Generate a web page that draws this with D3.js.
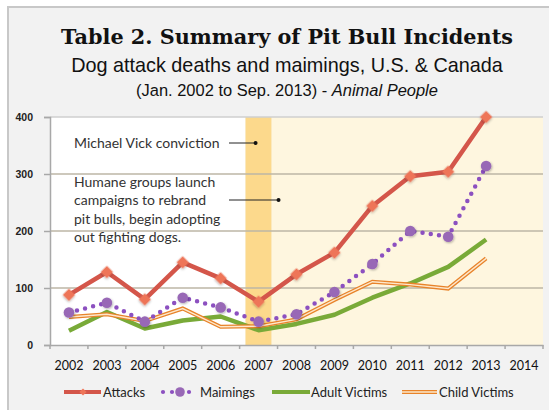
<!DOCTYPE html>
<html>
<head>
<meta charset="utf-8">
<script src="https://cdn.jsdelivr.net/npm/d3@7"></script>
<style>
  body { margin: 0; background: #fff; }
  text { font-family: Lato, "Open Sans", sans-serif; }
</style>
</head>
<body>
<div class="wrapper"></div>
<script>
const years = ['2002', '2003', '2004', '2005', '2006', '2007', '2008', '2009', '2010', '2011', '2012', '2013', '2014']
const dataYears = years.slice(0, 12)
const attacks = [88, 128, 80, 145, 117, 76, 124, 162, 244, 296, 304, 400]
const maimings = [57, 74, 41, 83, 66, 41, 54, 93, 142, 200, 190, 314]
const adultVictims = [25, 58, 29, 43, 50, 26, 37, 53, 83, 108, 137, 185]
const childVictims = [49, 54, 42, 64, 32, 33, 45, 79, 111, 106, 99, 152]
const yTicks = [0, 100, 200, 300, 400]
const notes = [
  ['Michael Vick conviction'],
  ['Humane groups launch', 'campaigns to rebrand', 'pit bulls, begin adopting', 'out fighting dogs.'],
]

const width = 549, height = 410
const plot = { left: 50, right: 543, top: 117, bottom: 345 }

const svg = d3.select('.wrapper')
  .append('svg')
  .attr('width', width)
  .attr('height', height)

const defs = svg.append('defs')
defs.append('filter').attr('id', 'shadow')
  .attr('x', '-50%').attr('y', '-50%').attr('width', '200%').attr('height', '200%')
  .append('feDropShadow')
  .attr('dx', 0.8).attr('dy', 1).attr('stdDeviation', 0.8)
  .attr('flood-color', '#000').attr('flood-opacity', 0.3)

// panel
svg.append('rect')
  .attr('x', 8).attr('y', 7)
  .attr('width', 560).attr('height', 420)
  .attr('fill', '#f2f2f2')
  .attr('stroke', '#c8c8c8')
  .attr('stroke-width', 2)

// titles, sized to the widths
function fit(sel, w) {
  const size = parseFloat(sel.attr('font-size'))
  const len = sel.node().getComputedTextLength()
  sel.attr('font-size', size * w / len)
}

const title = svg.append('text')
  .attr('x', 287).attr('y', 44)
  .attr('text-anchor', 'middle')
  .attr('font-size', 23)
  .attr('font-weight', 'bold')
  .style('font-family', '"DejaVu Serif", "Liberation Serif", serif')
  .attr('fill', '#111')
  .text('Table 2. Summary of Pit Bull Incidents')
fit(title, 452)

const sub = svg.append('text')
  .attr('x', 287).attr('y', 72)
  .attr('text-anchor', 'middle')
  .attr('font-size', 18.5)
  .style('font-family', '"Liberation Sans", Arial, sans-serif')
  .attr('fill', '#111')
  .text('Dog attack deaths and maimings, U.S. & Canada')
fit(sub, 432)

const sub2 = svg.append('text')
  .attr('x', 287).attr('y', 96)
  .attr('text-anchor', 'middle')
  .attr('font-size', 14)
  .style('font-family', '"Liberation Sans", Arial, sans-serif')
  .attr('fill', '#111')
sub2.append('tspan').text('(Jan. 2002 to Sep. 2013) - ')
sub2.append('tspan').attr('font-style', 'italic').text('Animal People')
fit(sub2, 302)

// scales
const x = d3.scaleBand().domain(years).range([plot.left, plot.right])
const y = d3.scaleLinear().domain([0, 400]).range([plot.bottom, plot.top])
const cx = d => x(d) + x.bandwidth() / 2

// backgrounds: white before the Vick year, gold band on 2007, cream after
const bw = x.bandwidth()
const goldL = x('2007') + bw * 0.155, goldR = x('2007') + bw * 0.845
svg.append('rect')
  .attr('x', plot.left).attr('y', plot.top)
  .attr('width', goldL - plot.left).attr('height', plot.bottom - plot.top)
  .attr('fill', '#fff')
svg.append('rect')
  .attr('x', goldL).attr('y', plot.top)
  .attr('width', goldR - goldL).attr('height', plot.bottom - plot.top)
  .attr('fill', '#fcd98c')
svg.append('rect')
  .attr('x', goldR).attr('y', plot.top)
  .attr('width', plot.right - goldR).attr('height', plot.bottom - plot.top)
  .attr('fill', '#fef6df')

// grid
svg.append('g')
  .selectAll('line')
  .data(yTicks.slice(1))
  .join('line')
  .attr('x1', plot.left).attr('x2', plot.right)
  .attr('y1', d => y(d)).attr('y2', d => y(d))
  .attr('stroke', d => d === 400 ? '#cfcfcf' : '#bdb6a6')
  .attr('stroke-width', 1.5)

// y axis
const yAxis = svg.append('g')
  .attr('transform', `translate(${plot.left},0)`)
  .call(d3.axisLeft(y).tickValues(yTicks).tickSize(6).tickPadding(11))
yAxis.select('.domain').attr('stroke', '#a8a8a8').attr('stroke-width', 1.5)
yAxis.selectAll('.tick line').attr('stroke', '#a8a8a8').attr('stroke-width', 1.5)
yAxis.selectAll('.tick text')
  .attr('fill', '#222')
  .attr('font-size', 10.5)
  .attr('font-weight', 'bold')
  .style('font-family', '"Liberation Sans", Arial, sans-serif')

// x axis
const xAxis = svg.append('g')
  .attr('transform', `translate(0,${plot.bottom})`)
  .call(d3.axisBottom(x).tickSize(0).tickPadding(16))
xAxis.select('.domain').attr('stroke', '#a8a8a8').attr('stroke-width', 1.5)
xAxis.selectAll('.tick text').attr('fill', '#111').attr('font-size', 12.5)
xAxis.selectAll('.edge')
  .data(years.map(d => x(d)).concat([plot.right]))
  .join('line')
  .attr('x1', d => d).attr('x2', d => d)
  .attr('y1', 0).attr('y2', 4)
  .attr('stroke', '#a8a8a8').attr('stroke-width', 1.5)

// annotations, leaders end around the 2007 band
const noteLeader = [
  { tx: 74, ty: 148, lx1: 229, lx2: cx('2007') - 3, ly: 143 },
  { tx: 74, ty: 187, lx1: 229, lx2: x('2008') + 1, ly: 200 },
]
notes.forEach((lines, i) => {
  const p = noteLeader[i]
  const t = svg.append('text')
    .attr('x', p.tx).attr('y', p.ty)
    .attr('font-size', 14)
    .attr('fill', '#333')
  lines.forEach((l, j) => t.append('tspan').attr('x', p.tx).attr('dy', j ? 18.3 : 0).text(l))
  svg.append('line')
    .attr('x1', p.lx1).attr('x2', p.lx2)
    .attr('y1', p.ly).attr('y2', p.ly)
    .attr('stroke', '#222').attr('stroke-width', 1)
  svg.append('circle')
    .attr('cx', p.lx2).attr('cy', p.ly).attr('r', 2)
    .attr('fill', '#111')
})

// series
const line = d3.line().x((d, i) => cx(dataYears[i])).y(d => y(d))

function childPath(g, values) {
  g.append('path').attr('d', line(values))
    .attr('fill', 'none').attr('stroke', '#e8832a').attr('stroke-width', 4)
    .attr('stroke-linejoin', 'miter')
  g.append('path').attr('d', line(values))
    .attr('fill', 'none').attr('stroke', '#fde8cc').attr('stroke-width', 1.4)
    .attr('stroke-linejoin', 'miter')
}

const series = svg.append('g')

series.append('path')
  .attr('d', line(adultVictims))
  .attr('fill', 'none')
  .attr('stroke', '#79aa38')
  .attr('stroke-width', 4.5)
  .attr('stroke-linejoin', 'round')

childPath(series, childVictims)

series.append('path')
  .attr('d', line(maimings))
  .attr('fill', 'none')
  .attr('stroke', '#8c50c0')
  .attr('stroke-width', 4.5)
  .attr('stroke-linecap', 'round')
  .attr('stroke-dasharray', '0 8.3')

series.selectAll('circle.maim')
  .data(maimings)
  .join('circle')
  .attr('class', 'maim')
  .attr('cx', (d, i) => cx(dataYears[i]))
  .attr('cy', d => y(d))
  .attr('r', 5.3)
  .attr('fill', '#9868b6')
  .attr('filter', 'url(#shadow)')

series.append('path')
  .attr('d', line(attacks))
  .attr('fill', 'none')
  .attr('stroke', '#d4564a')
  .attr('stroke-width', 4.5)
  .attr('stroke-linejoin', 'round')

const diamond = d3.symbol().type(d3.symbolSquare).size(76)
series.selectAll('path.att')
  .data(attacks)
  .join('path')
  .attr('class', 'att')
  .attr('d', diamond)
  .attr('transform', (d, i) => `translate(${cx(dataYears[i])},${y(d)}) rotate(45)`)
  .attr('fill', '#ee7559')
  .attr('filter', 'url(#shadow)')

// legend
const legY = 392
const leg = svg.append('g')
leg.append('line').attr('x1', 64).attr('x2', 101).attr('y1', legY).attr('y2', legY)
  .attr('stroke', '#d4564a').attr('stroke-width', 4)
leg.append('path').attr('d', d3.symbol().type(d3.symbolSquare).size(26))
  .attr('transform', `translate(83,${legY}) rotate(45)`).attr('fill', '#ee7559')
leg.append('text').attr('x', 103).attr('y', legY + 5).attr('font-size', 13).attr('fill', '#222').text('Attacks')

;[163, 172, 189].forEach(px => leg.append('circle').attr('cx', px).attr('cy', legY).attr('r', 2.1).attr('fill', '#8c50c0'))
leg.append('circle').attr('cx', 180).attr('cy', legY).attr('r', 4.8).attr('fill', '#9868b6')
leg.append('text').attr('x', 200).attr('y', legY + 5).attr('font-size', 13).attr('fill', '#222').text('Maimings')

leg.append('line').attr('x1', 272).attr('x2', 310).attr('y1', legY).attr('y2', legY)
  .attr('stroke', '#79aa38').attr('stroke-width', 4)
leg.append('text').attr('x', 311).attr('y', legY + 5).attr('font-size', 13).attr('fill', '#222').text('Adult Victims')

leg.append('line').attr('x1', 402).attr('x2', 437).attr('y1', legY).attr('y2', legY)
  .attr('stroke', '#e8832a').attr('stroke-width', 4)
leg.append('line').attr('x1', 402).attr('x2', 437).attr('y1', legY).attr('y2', legY)
  .attr('stroke', '#fde8cc').attr('stroke-width', 1.4)
leg.append('text').attr('x', 439).attr('y', legY + 5).attr('font-size', 13).attr('fill', '#222').text('Child Victims')
</script>
</body>
</html>
